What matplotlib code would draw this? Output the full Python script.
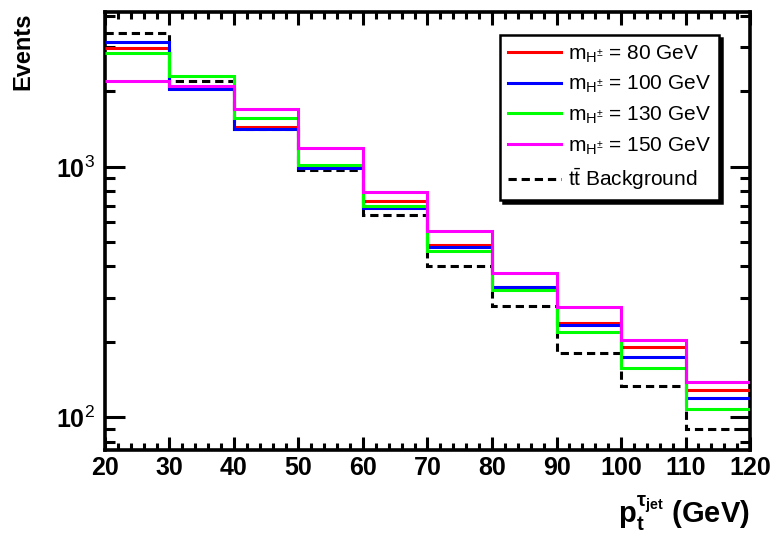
import numpy as np
import matplotlib
matplotlib.use("Agg")
import matplotlib.pyplot as plt
from matplotlib.ticker import MultipleLocator, LogLocator, FixedLocator, NullFormatter

plt.rcParams['font.family'] = ['Liberation Sans', 'DejaVu Sans']
plt.rcParams['mathtext.fontset'] = 'custom'
plt.rcParams['mathtext.rm'] = 'Liberation Sans'
plt.rcParams['mathtext.it'] = 'Liberation Sans:italic'
plt.rcParams['mathtext.bf'] = 'Liberation Sans:bold'

# bin edges in pt of tau jet (GeV)
edges = [20, 30, 40, 50, 60, 70, 80, 90, 100, 110, 120]

# events per bin
m80 = [2985, 2065, 1447, 1000, 732, 486, 332, 238, 190, 129]
m100 = [3150, 2050, 1413, 988, 682, 477, 330, 233, 174, 119]
m130 = [2850, 2305, 1571, 1018, 699, 460, 321, 220, 158, 108]
m150 = [2207, 2103, 1702, 1187, 790, 556, 377, 275, 203, 138]
ttbar = [3430, 2207, 1415, 970, 640, 403, 277, 181, 133, 89.6]

labels = [r'$\mathrm{m_{H^{\pm}}}$ = 80 GeV',
          r'$\mathrm{m_{H^{\pm}}}$ = 100 GeV',
          r'$\mathrm{m_{H^{\pm}}}$ = 130 GeV',
          r'$\mathrm{m_{H^{\pm}}}$ = 150 GeV',
          r'$\mathrm{t\bar{t}}$ Background']

fig = plt.figure(figsize=(7.76, 5.36), dpi=100)
ax = fig.add_axes([0.1353, 0.1604, 0.8312, 0.8172])

lw = 2.2
h_bg = ax.stairs(ttbar, edges, baseline=None, color='black', lw=lw,
                 linestyle=(0, (2.7, 1.6)), zorder=2)
h80 = ax.stairs(m80, edges, baseline=None, color='#ff0000', lw=lw, zorder=3)
h100 = ax.stairs(m100, edges, baseline=None, color='#0000ff', lw=lw, zorder=4)
h130 = ax.stairs(m130, edges, baseline=None, color='#00ff00', lw=lw, zorder=5)
h150 = ax.stairs(m150, edges, baseline=None, color='#ff00ff', lw=lw, zorder=6)

ax.set_yscale('log')
ax.set_xlim(20, 120)
ax.set_ylim(74, 4150)

ax.xaxis.set_major_locator(MultipleLocator(10))
ax.xaxis.set_minor_locator(MultipleLocator(2))
ax.yaxis.set_major_locator(FixedLocator([100, 1000]))
ax.yaxis.set_minor_locator(LogLocator(base=10, subs=np.arange(2, 10)))
ax.yaxis.set_minor_formatter(NullFormatter())
ax.set_yticklabels([r'$\mathbf{10}^{\mathrm{2}}$', r'$\mathbf{10}^{\mathrm{3}}$'])

ax.tick_params(axis='both', which='both', direction='in', top=True, right=True,
               width=2.2, colors='black')
ax.tick_params(axis='x', which='major', length=9.4, labelsize=18, pad=4)
ax.tick_params(axis='x', which='minor', length=5)
ax.tick_params(axis='y', which='major', length=14.4, labelsize=18, pad=7)
ax.tick_params(axis='y', which='minor', length=7.2)
for t in ax.get_xticklabels():
    t.set_fontweight('bold')

for s in ax.spines.values():
    s.set_linewidth(2.6)

ax.set_ylabel('Events', fontsize=17, fontweight='bold', loc='top', labelpad=16)
ax.set_xlabel(r'$\mathbf{p_t^{\tau_{jet}}}$ (GeV)', fontsize=21,
              fontweight='bold', loc='right', labelpad=10)

leg = ax.legend([h80, h100, h130, h150, h_bg], labels, loc='upper right',
                bbox_to_anchor=(0.952, 0.9475), borderaxespad=0,
                fontsize=15, frameon=True, fancybox=False, edgecolor='black',
                framealpha=1, shadow={'color': 'black', 'alpha': 1},
                handlelength=2.5, handletextpad=0.35, labelspacing=0.45,
                borderpad=0.4)
leg.get_frame().set_linewidth(1.8)
for line in leg.get_lines():
    line.set_linewidth(lw)

fig.savefig('out.png', dpi=100)
